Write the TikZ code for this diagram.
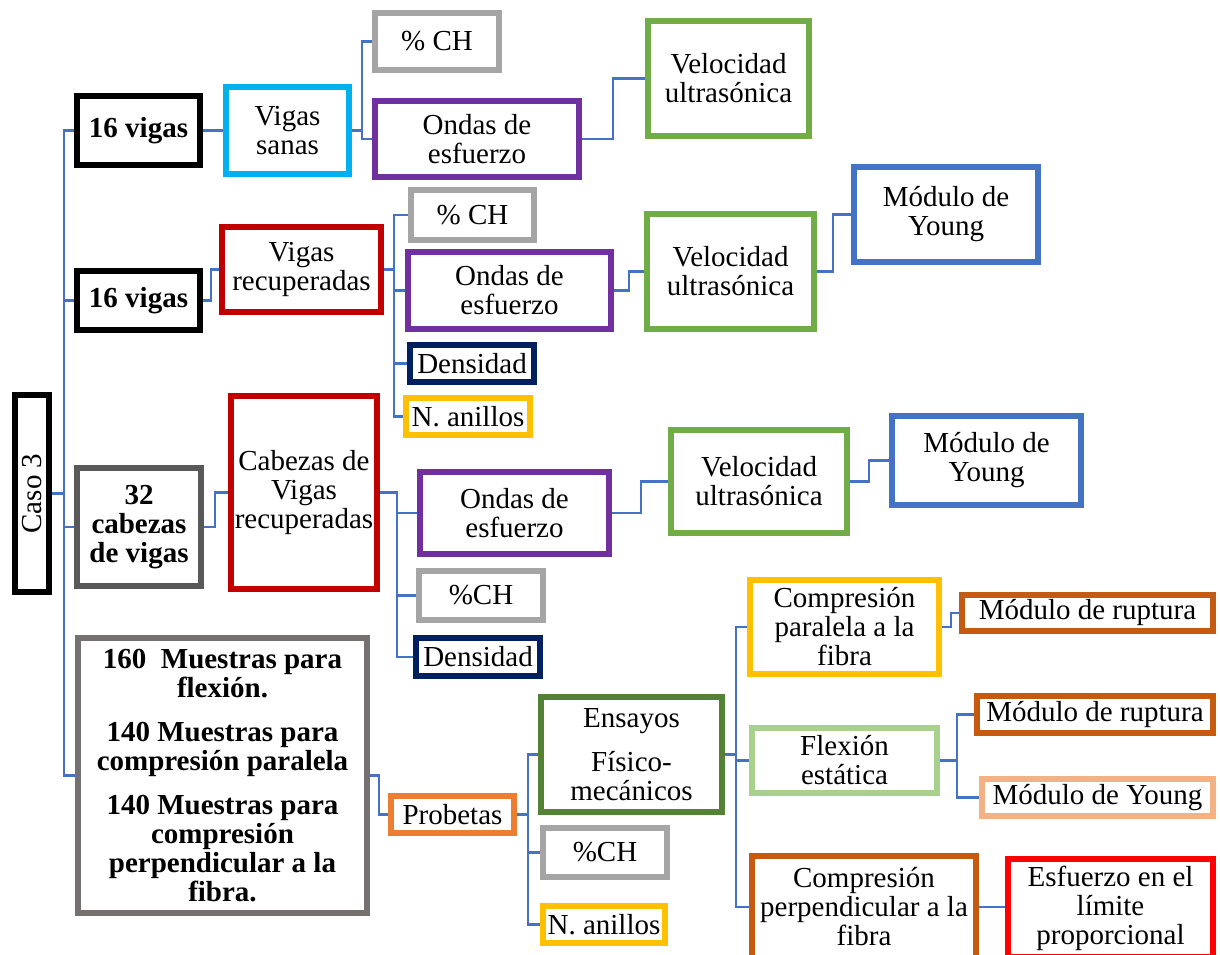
\documentclass[tikz,border=0pt]{standalone}
\usepackage{fontspec}
\setmainfont{Liberation Serif}
\usepackage{tikz}
\definecolor{linkColor}{HTML}{4472C4}
\definecolor{sanasColor}{HTML}{00B0F0}
\definecolor{chColor}{HTML}{A5A5A5}
\definecolor{ondasColor}{HTML}{7030A0}
\definecolor{veloColor}{HTML}{70AD47}
\definecolor{recColor}{HTML}{C00000}
\definecolor{youngColor}{HTML}{4472C4}
\definecolor{densColor}{HTML}{002060}
\definecolor{anillosColor}{HTML}{FFC000}
\definecolor{cabezasColor}{HTML}{595959}
\definecolor{muestrasColor}{HTML}{767171}
\definecolor{probetasColor}{HTML}{ED7D31}
\definecolor{ensayosColor}{HTML}{538135}
\definecolor{rupturaColor}{HTML}{C55A11}
\definecolor{flexionColor}{HTML}{A9D18E}
\definecolor{youngLightColor}{HTML}{F4B183}
\definecolor{esfuerzoColor}{HTML}{FF0000}

\begin{document}
\begin{tikzpicture}[x=0.02cm, y=-0.02cm]

          \tikzstyle{box} = [draw, line width=0.12cm, inner sep=0pt, align=center, font=\fontsize{16.5}{16.5}\selectfont];
          \tikzstyle{boldBox} = [box, font=\fontsize{16.5}{16.5}\selectfont\bfseries];
          \tikzstyle{link} = [linkColor, line width=0.055cm];

          \useasboundingbox (0,0) rectangle (1220,955);

          \node[box, black, rotate=90, minimum width=3.94cm, minimum height=0.68cm] (caso) at (32,493.5) {Caso 3};

          \node[boldBox, black, minimum width=2.46cm, minimum height=1.38cm] (vigasA) at (138.5,130.5) {16 vigas};
          \node[box, sanasColor, text=black, minimum width=2.46cm, minimum height=1.74cm] (sanas) at (287.5,130.5) {Vigas\\sanas};
          \node[box, chColor, text=black, minimum width=2.48cm, minimum height=1.14cm] (chA) at (437,41.5) {\% CH};
          \node[box, ondasColor, text=black, minimum width=4.08cm, minimum height=1.52cm] (ondasA) at (477,139) {Ondas de\\esfuerzo};
          \node[box, veloColor, text=black, minimum width=3.22cm, minimum height=2.30cm] (veloA) at (728.5,78.5) {Velocidad\\ultrasónica};

          \node[boldBox, black, minimum width=2.46cm, minimum height=1.18cm] (vigasB) at (138.5,300.5) {16 vigas};
          \node[box, recColor, text=black, minimum width=3.18cm, minimum height=1.70cm] (recuperadas) at (301.5,269.5) {Vigas\\recuperadas};
          \node[box, chColor, text=black, minimum width=2.46cm, minimum height=1.00cm] (chB) at (472.5,215) {\% CH};
          \node[box, ondasColor, text=black, minimum width=4.06cm, minimum height=1.54cm] (ondasB) at (509.5,290.5) {Ondas de\\esfuerzo};
          \node[box, veloColor, text=black, minimum width=3.34cm, minimum height=2.30cm] (veloB) at (730.5,271.5) {Velocidad\\ultrasónica};
          \node[box, youngColor, text=black, minimum width=3.68cm, minimum height=1.90cm] (youngA) at (946,214.5) {Módulo de\\Young};
          \node[box, densColor, text=black, minimum width=2.48cm, minimum height=0.74cm] (densA) at (472,363.5) {Densidad};
          \node[box, anillosColor, text=black, minimum width=2.48cm, minimum height=0.74cm] (anillosA) at (468,416.5) {N. anillos};

          \node[boldBox, cabezasColor, text=black, minimum width=2.48cm, minimum height=2.36cm] (cabezasB) at (139,527) {32\\cabezas\\de vigas};
          \node[box, recColor, text=black, minimum width=2.92cm, minimum height=3.86cm] (cabezas) at (304,492.5) {Cabezas de\\Vigas\\recuperadas};
          \node[box, ondasColor, text=black, minimum width=3.78cm, minimum height=1.64cm] (ondasC) at (514.5,513) {Ondas de\\esfuerzo};
          \node[box, chColor, text=black, minimum width=2.48cm, minimum height=0.98cm] (chC) at (481,595.5) {\%CH};
          \node[box, densColor, text=black, minimum width=2.48cm, minimum height=0.76cm] (densB) at (478,657) {Densidad};
          \node[box, veloColor, text=black, minimum width=3.52cm, minimum height=2.06cm] (veloC) at (759,481.5) {Velocidad\\ultrasónica};
          \node[box, youngColor, text=black, minimum width=3.78cm, minimum height=1.78cm] (youngB) at (986.5,460.5) {Módulo de\\Young};

          \node[boldBox, muestrasColor, text=black, minimum width=5.78cm, minimum height=5.50cm] (muestras) at (222.5,775.5) {160\enspace Muestras para\\flexión.\\[0.3cm]140 Muestras para\\compresión paralela\\[0.3cm]140 Muestras para\\compresión\\perpendicular a la\\fibra.};
          \node[box, probetasColor, text=black, minimum width=2.46cm, minimum height=0.74cm] (probetas) at (452.5,814.5) {Probetas};
          \node[box, ensayosColor, text=black, minimum width=3.62cm, minimum height=2.30cm] (ensayos) at (631.5,754.5) {Ensayos\\[0.3cm]Físico-\\mecánicos};
          \node[box, chColor, text=black, minimum width=2.48cm, minimum height=0.98cm] (chD) at (605,852.5) {\%CH};
          \node[box, anillosColor, text=black, minimum width=2.44cm, minimum height=0.74cm] (anillosB) at (604,924.5) {N. anillos};

          \node[box, anillosColor, text=black, minimum width=3.78cm, minimum height=1.88cm] (compPar) at (844.5,627) {Compresión\\paralela a la\\fibra};
          \node[box, flexionColor, text=black, minimum width=3.70cm, minimum height=1.30cm] (flexion) at (844.5,760.5) {Flexión\\estática};
          \node[box, rupturaColor, text=black, minimum width=4.48cm, minimum height=2.04cm] (compPerp) at (864,907) {Compresión\\perpendicular a la\\fibra};
          \node[box, rupturaColor, text=black, minimum width=5.02cm, minimum height=0.72cm] (rupturaA) at (1087.5,613) {Módulo de ruptura};
          \node[box, rupturaColor, text=black, minimum width=4.72cm, minimum height=0.74cm] (rupturaB) at (1095,714.5) {Módulo de ruptura};
          \node[box, youngLightColor, text=black, minimum width=4.62cm, minimum height=0.74cm] (youngC) at (1097.5,797.5) {Módulo de Young};
          \node[box, esfuerzoColor, text=black, minimum width=4.10cm, minimum height=1.96cm] (esfuerzo) at (1110.5,908) {Esfuerzo en el\\límite\\proporcional};

          \draw[link] (caso.south) -- ++(12,0) |- (vigasA.west);
          \draw[link] (caso.south) -- ++(12,0) |- (vigasB.west);
          \draw[link] (caso.south) -- ++(12,0) |- (cabezasB.west);
          \draw[link] (caso.south) -- ++(12,0) |- (muestras.west);

          \draw[link] (vigasA) -- (sanas);
          \draw[link] (sanas.east) -- ++(10,0) |- (chA.west);
          \draw[link] (sanas.east) -- ++(10,0) |- (ondasA.west);
          \draw[link] (ondasA.east) -- ++(31,0) |- (veloA.west);

          \draw[link] (vigasB.east) -- ++(8,0) |- (recuperadas.west);
          \draw[link] (recuperadas.east) -- ++(10,0) |- (chB.west);
          \draw[link] (recuperadas.east) -- ++(10,0) |- (ondasB.west);
          \draw[link] (recuperadas.east) -- ++(10,0) |- (densA.west);
          \draw[link] (recuperadas.east) -- ++(10,0) |- (anillosA.west);
          \draw[link] (ondasB.east) -- ++(15,0) |- (veloB.west);
          \draw[link] (veloB.east) -- ++(16,0) |- (youngA.west);

          \draw[link] (cabezasB.east) -- ++(11,0) |- (cabezas.west);
          \draw[link] (cabezas.east) -- ++(17,0) |- (ondasC.west);
          \draw[link] (cabezas.east) -- ++(17,0) |- (chC.west);
          \draw[link] (cabezas.east) -- ++(17,0) |- (densB.west);
          \draw[link] (ondasC.east) -- ++(29,0) |- (veloC.west);
          \draw[link] (veloC.east) -- ++(19,0) |- (youngB.west);

          \draw[link] (muestras.east) -- ++(9,0) |- (probetas.west);
          \draw[link] (probetas.east) -- ++(11,0) |- (ensayos.west);
          \draw[link] (probetas.east) -- ++(11,0) |- (chD.west);
          \draw[link] (probetas.east) -- ++(11,0) |- (anillosB.west);

          \draw[link] (ensayos.east) -- ++(11,0) |- (compPar.west);
          \draw[link] (ensayos.east) -- ++(11,0) |- (flexion.west);
          \draw[link] (ensayos.east) -- ++(11,0) |- (compPerp.west);
          \draw[link] (compPar.east) -- ++(9,0) |- (rupturaA.west);
          \draw[link] (flexion.east) -- ++(17,0) |- (rupturaB.west);
          \draw[link] (flexion.east) -- ++(17,0) |- (youngC.west);
          \draw[link] (compPerp.east) -- (compPerp.east -| esfuerzo.west);
        \end{tikzpicture}
\end{document}
